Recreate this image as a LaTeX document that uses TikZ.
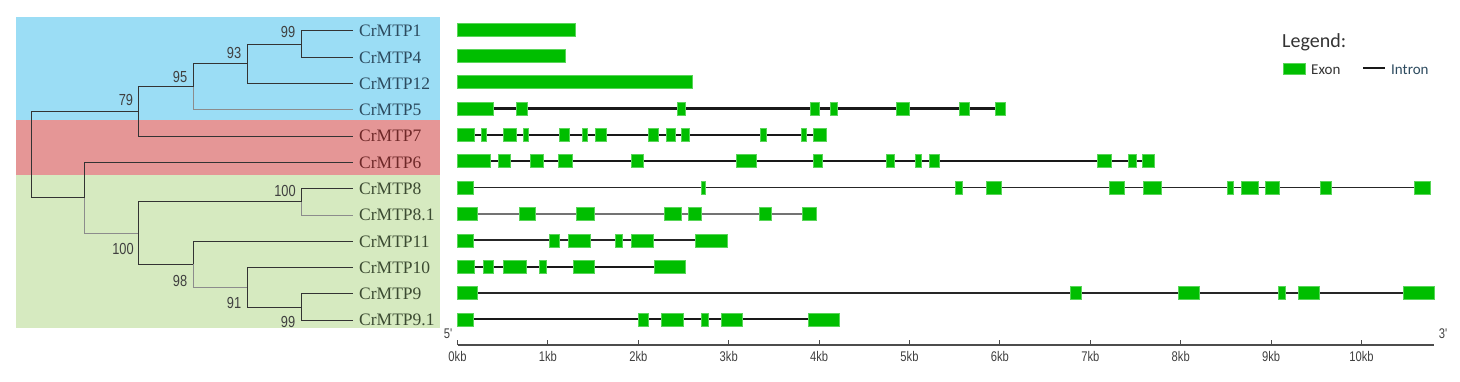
\documentclass[tikz,border=0pt]{standalone}
\usepackage{fontspec}
\setmainfont{Liberation Serif}
\newfontfamily\numfont[FakeStretch=0.8]{Liberation Sans}
\newfontfamily\legfont{Carlito}
\usepackage{xcolor}
\usetikzlibrary{positioning}

\definecolor{cladeA}{RGB}{155,221,245}
\definecolor{cladeB}{RGB}{229,150,150}
\definecolor{cladeC}{RGB}{214,234,192}
\definecolor{txtA}{RGB}{45,75,95}
\definecolor{txtB}{RGB}{110,40,40}
\definecolor{txtC}{RGB}{60,75,50}
\definecolor{exongreen}{RGB}{0,190,0}

\begin{document}
\begin{tikzpicture}[
  x=1pt, y=-1pt,
  br/.style={draw=black!80, line width=1pt},
  brl/.style={draw=black!45, line width=1pt},
  leaf/.style={anchor=west, inner xsep=6pt, inner ysep=1pt, font=\fontsize{17.5}{20}\selectfont},
  bs/.style={font=\numfont\fontsize{16}{18}\selectfont, text=black!75, inner sep=0pt},
  ex/.style={fill=exongreen, draw=exongreen!65!white, line width=0.5pt},
  intron/.style={draw=black!90, line width=2.2pt},
  thinintron/.style={draw=black!85, line width=1.8pt},
  grayintron/.style={draw=black!55, line width=1.6pt},
  kb/.style={font=\numfont\fontsize{14}{16}\selectfont, text=black!75, inner sep=0pt},
]
\useasboundingbox (0,0) rectangle (1460,382);

% clade panels
\fill[cladeA] (16,17) rectangle (440,120);
\fill[cladeB] (16,120) rectangle (440,175);
\fill[cladeC] (16,175) rectangle (440,328);

% leaves
\node[leaf, text=txtA] (l1) at (353,31) {CrMTP1};
\node[leaf, text=txtA] (l4) at (353,57.3) {CrMTP4};
\node[leaf, text=txtA] (l12) at (353,83.6) {CrMTP12};
\node[leaf, text=txtA] (l5) at (353,109.9) {CrMTP5};
\node[leaf, text=txtB] (l7) at (353,136.2) {CrMTP7};
\node[leaf, text=txtB] (l6) at (353,162.5) {CrMTP6};
\node[leaf, text=txtC] (l8) at (353,188.8) {CrMTP8};
\node[leaf, text=txtC] (l81) at (353,215.1) {CrMTP8.1};
\node[leaf, text=txtC] (l11) at (353,241.4) {CrMTP11};
\node[leaf, text=txtC] (l10) at (353,267.7) {CrMTP10};
\node[leaf, text=txtC] (l9) at (353,294) {CrMTP9};
\node[leaf, text=txtC] (l91) at (353,320.3) {CrMTP9.1};

% inner nodes
\coordinate (n99a) at (301,44.15);
\coordinate (n93) at (247,63.9);
\coordinate (n95) at (193,86.9);
\coordinate (n79) at (138,111.55);
\coordinate (n100a) at (301,201.95);
\coordinate (n99b) at (301,307.15);
\coordinate (n91) at (247,287.4);
\coordinate (n98) at (193,264.4);
\coordinate (n100b) at (138,233.2);
\coordinate (n84) at (84,197.85);
\coordinate (root) at (31,154.7);

% branches
\draw[br] (n99a) |- (l1.west);
\draw[br] (n99a) |- (l4.west);
\draw[br] (n93) |- (n99a);
\draw[br] (n93) |- (l12.west);
\draw[br] (n95) |- (n93);
\draw[brl] (n95) |- (l5.west);
\draw[br] (n79) |- (n95);
\draw[br] (n79) |- (l7.west);
\draw[br] (root) |- (n79);
\draw[br] (root) |- (n84);
\draw[br] (n84) |- (l6.west);
\draw[brl] (n84) |- (n100b);
\draw[br] (n100b) |- (n100a);
\draw[br] (n100b) |- (n98);
\draw[br] (n100a) |- (l8.west);
\draw[brl] (n100a) |- (l81.west);
\draw[br] (n98) |- (l11.west);
\draw[brl] (n98) |- (n91);
\draw[br] (n91) |- (l10.west);
\draw[br] (n91) |- (n99b);
\draw[br] (n99b) |- (l9.west);
\draw[br] (n99b) |- (l91.west);

% bootstrap values
\node[bs] (b99a) at (288,32) {99};
\node[bs] (b93) at (234,53) {93};
\node[bs] (b95) at (180,77) {95};
\node[bs] (b79) at (126,100) {79};
\node[bs] (b100a) at (285,191) {100};
\node[bs] (b100b) at (123,249) {100};
\node[bs] (b98) at (180,281) {98};
\node[bs] (b91) at (234,303) {91};
\node[bs] (b99b) at (288,322) {99};

% gene structures
\begin{scope}[xshift=457.5pt, x=90.4pt]
% CrMTP1, CrMTP4, CrMTP12
\draw[ex] (0,23) rectangle (1.30,36);
\draw[ex] (0,49.35) rectangle (1.19,62.35);
\draw[ex] (0,75.7) rectangle (2.60,88.7);
% CrMTP5
\draw[intron] (0,108.55) -- (6.06,108.55);
\foreach \a/\b in {0/0.40,0.65/0.77,2.43/2.52,3.90/4.00,4.12/4.20,4.85/5.00,5.55/5.66,5.95/6.06}
  \draw[ex] (\a,102.05) rectangle (\b,115.05);
% CrMTP7
\draw[intron] (0,134.9) -- (4.08,134.9);
\foreach \a/\b in {0/0.19,0.26/0.32,0.51/0.65,0.73/0.78,1.13/1.24,1.38/1.44,1.52/1.64,2.11/2.22,2.31/2.41,2.48/2.56,3.35/3.41,3.80/3.86,3.94/4.08}
  \draw[ex] (\a,128.4) rectangle (\b,141.4);
% CrMTP6
\draw[intron] (0,161.25) -- (7.71,161.25);
\foreach \a/\b in {0/0.36,0.45/0.58,0.80/0.95,1.11/1.27,1.92/2.06,3.08/3.30,3.94/4.03,4.74/4.83,5.06/5.13,5.22/5.33,7.08/7.23,7.42/7.51,7.58/7.71}
  \draw[ex] (\a,154.75) rectangle (\b,167.75);
% CrMTP8
\draw[thinintron] (0,187.6) -- (10.76,187.6);
\foreach \a/\b in {0/0.17,2.70/2.74,5.51/5.58,5.85/6.02,7.21/7.38,7.59/7.79,8.51/8.58,8.67/8.86,8.94/9.09,9.54/9.67,10.58/10.76}
  \draw[ex] (\a,181.1) rectangle (\b,194.1);
% CrMTP8.1
\draw[grayintron] (0,213.95) -- (3.97,213.95);
\foreach \a/\b in {0/0.22,0.68/0.86,1.31/1.51,2.29/2.47,2.55/2.70,3.34/3.47,3.81/3.97}
  \draw[ex] (\a,207.45) rectangle (\b,220.45);
% CrMTP11
\draw[thinintron] (0,240.3) -- (2.98,240.3);
\foreach \a/\b in {0/0.175,1.02/1.13,1.22/1.47,1.74/1.82,1.92/2.16,2.63/2.98}
  \draw[ex] (\a,233.8) rectangle (\b,246.8);
% CrMTP10
\draw[intron] (0,266.65) -- (2.52,266.65);
\foreach \a/\b in {0/0.18,0.29/0.40,0.51/0.76,0.90/0.98,1.28/1.51,2.18/2.52}
  \draw[ex] (\a,260.15) rectangle (\b,273.15);
% CrMTP9
\draw[thinintron] (0,293) -- (10.80,293);
\foreach \a/\b in {0/0.22,6.78/6.90,7.97/8.21,9.08/9.16,9.30/9.53,10.46/10.80}
  \draw[ex] (\a,286.5) rectangle (\b,299.5);
% CrMTP9.1
\draw[intron] (0,319.35) -- (4.22,319.35);
\foreach \a/\b in {0/0.175,2.00/2.11,2.25/2.50,2.70/2.77,2.92/3.15,3.88/4.22}
  \draw[ex] (\a,312.85) rectangle (\b,325.85);

% scale
\draw[draw=black!70, line width=1.3pt] (0,345) -- (10.8,345);
\foreach \k in {0,...,10} {
  \draw[draw=black!70, line width=1pt] (\k,345) -- (\k,339.5);
  \node[kb] (t\k) at (\k,356) {\k kb};
}
\end{scope}
\node[kb] (p5) at (448,334) {5'};
\node[kb] (p3) at (1443,334) {3'};

% legend
\node[anchor=west, inner sep=0pt, font=\legfont\fontsize{20}{22}\selectfont, text=black!80] (leg) at (1282,42) {Legend:};
\draw[ex] (1283,63.5) rectangle (1305,74.5);
\node[anchor=west, inner sep=0pt, font=\legfont\fontsize{15}{17}\selectfont, text=black!80] (legexon) at (1311,69.5) {Exon};
\draw[intron, line width=2pt] (1363,68.3) -- (1385,68.3);
\node[anchor=west, inner sep=0pt, font=\legfont\fontsize{15}{17}\selectfont, text=txtA] (legintron) at (1391,69.5) {Intron};
\end{tikzpicture}
\end{document}
